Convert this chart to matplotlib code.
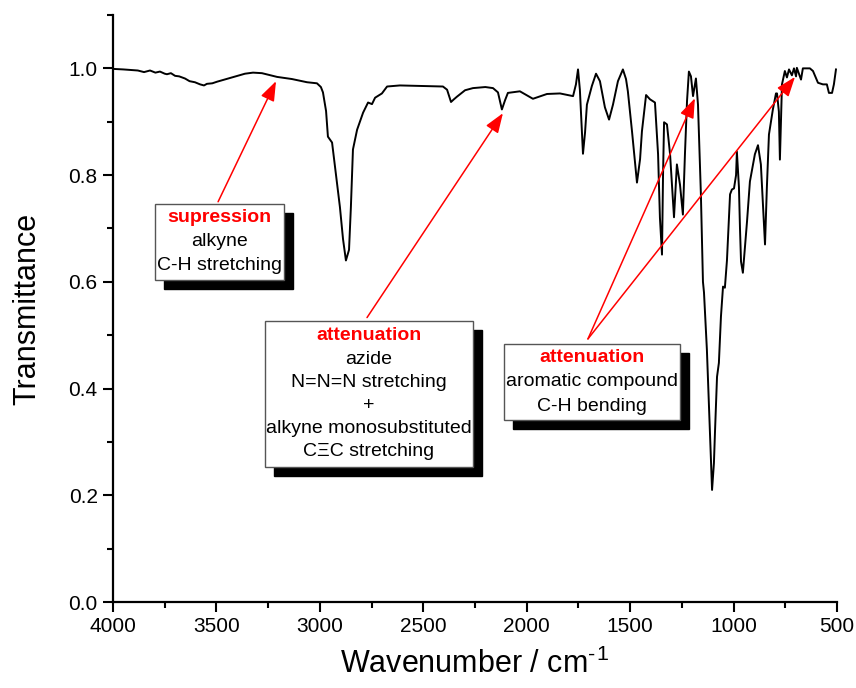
import matplotlib
matplotlib.use("Agg")
import matplotlib.pyplot as plt
from matplotlib.ticker import MultipleLocator, FormatStrFormatter
from matplotlib.patches import Rectangle

plt.rcParams['font.family'] = ['Liberation Sans', 'DejaVu Sans']
plt.rcParams['mathtext.default'] = 'regular'

wavenumber = [4000, 3950, 3918, 3880, 3850, 3821, 3795, 3773, 3750, 3739, 3720, 3700, 3680,
              3652, 3630, 3604, 3579, 3560, 3546, 3520, 3497, 3434, 3362, 3323, 3280, 3207,
              3135, 3062, 3014, 2995, 2985, 2970, 2961, 2941, 2922, 2903, 2888, 2874, 2859,
              2850, 2840, 2820, 2791, 2767, 2748, 2733, 2700, 2675, 2613, 2516, 2405, 2385,
              2366, 2352, 2337, 2298, 2260, 2200, 2163, 2139, 2120, 2105, 2091, 2033, 1970,
              1902, 1839, 1776, 1762, 1752, 1743, 1728, 1718, 1709, 1685, 1665, 1646, 1622,
              1602, 1583, 1559, 1535, 1520, 1511, 1491, 1467, 1452, 1443, 1423, 1404, 1380,
              1365, 1356, 1346, 1341, 1336, 1322, 1307, 1288, 1274, 1259, 1245, 1235, 1225,
              1216, 1206, 1196, 1182, 1172, 1158, 1148, 1143, 1129, 1114, 1104, 1095, 1090,
              1080, 1071, 1061, 1051, 1042, 1032, 1017, 1008, 998, 988, 984, 974, 969, 964,
              955, 935, 921, 906, 897, 882, 868, 858, 848, 839, 829, 810, 795, 790, 781, 776,
              766, 752, 742, 732, 718, 708, 698, 694, 684, 674, 665, 631, 616, 592, 568, 549,
              539, 524, 515, 505]
transmittance = [0.999, 0.998, 0.997, 0.996, 0.993, 0.996, 0.992, 0.994, 0.990, 0.989, 0.991,
                 0.986, 0.985, 0.981, 0.976, 0.974, 0.970, 0.968, 0.971, 0.972, 0.975, 0.982,
                 0.990, 0.992, 0.991, 0.984, 0.980, 0.974, 0.972, 0.965, 0.955, 0.920, 0.872,
                 0.861, 0.800, 0.740, 0.680, 0.640, 0.660, 0.740, 0.848, 0.885, 0.917, 0.936,
                 0.933, 0.945, 0.953, 0.966, 0.968, 0.967, 0.966, 0.960, 0.937, 0.942, 0.947,
                 0.959, 0.963, 0.965, 0.963, 0.955, 0.923, 0.940, 0.954, 0.957, 0.943, 0.952,
                 0.953, 0.948, 0.970, 0.998, 0.960, 0.840, 0.880, 0.932, 0.967, 0.990, 0.976,
                 0.927, 0.904, 0.932, 0.976, 0.998, 0.980, 0.957, 0.882, 0.786, 0.830, 0.882,
                 0.950, 0.942, 0.936, 0.839, 0.720, 0.651, 0.800, 0.899, 0.895, 0.839, 0.721,
                 0.820, 0.782, 0.726, 0.840, 0.939, 0.994, 0.985, 0.948, 0.981, 0.932, 0.764,
                 0.600, 0.580, 0.473, 0.317, 0.210, 0.260, 0.317, 0.422, 0.448, 0.535, 0.591,
                 0.589, 0.640, 0.764, 0.773, 0.775, 0.800, 0.844, 0.777, 0.700, 0.638, 0.617,
                 0.713, 0.788, 0.820, 0.839, 0.856, 0.820, 0.745, 0.670, 0.777, 0.876, 0.923,
                 0.953, 0.953, 0.919, 0.829, 0.970, 0.995, 0.983, 0.998, 0.987, 1.000, 0.985,
                 1.001, 0.990, 0.979, 1.000, 1.000, 0.995, 0.973, 0.970, 0.970, 0.954, 0.954,
                 0.970, 0.998]

# annotations: (tip wavenumber, tip T), (start wavenumber, start T)
arrow_tips = [(3212, 0.976), (2115, 0.916), (1187, 0.944), (703, 0.984)]
arrow_starts = [(3492, 0.750), (2772, 0.533), (1704, 0.493), (1704, 0.493)]

box_titles = ["supression", "attenuation", "attenuation"]
box_lines = [["alkyne", "C-H stretching"],
             ["azide", "N=N=N stretching", "+", "alkyne monosubstituted", "C\u039eC stretching"],
             ["aromatic compound", "C-H bending"]]

W, H = 856, 688
fig = plt.figure(figsize=(W / 100, H / 100), dpi=100)
ax = fig.add_axes([113 / W, 1 - 602 / H, (837 - 113) / W, (602 - 15) / H])

ax.plot(wavenumber, transmittance, color='black', lw=1.4, zorder=3)
ax.set_xlim(4000, 500)
ax.set_ylim(0, 1.1)

for s in ['top', 'right']:
    ax.spines[s].set_visible(False)
for s in ['left', 'bottom']:
    ax.spines[s].set_linewidth(1.6)

ax.xaxis.set_major_locator(MultipleLocator(500))
ax.xaxis.set_minor_locator(MultipleLocator(250))
ax.yaxis.set_major_locator(MultipleLocator(0.2))
ax.yaxis.set_minor_locator(MultipleLocator(0.1))
ax.yaxis.set_major_formatter(FormatStrFormatter('%.1f'))
ax.tick_params(which='major', direction='out', length=7, width=1.5, labelsize=15, pad=4)
ax.tick_params(which='minor', direction='out', length=4, width=1.5)

ax.set_xlabel('Wavenumber / cm$^{\u2010\u200a1}$', fontsize=22)
ax.set_ylabel('Transmittance', fontsize=22)
ax.xaxis.set_label_coords(0.5, -0.08)
ax.yaxis.set_label_coords(-0.098, 0.5)

# arrows
for tip, start in zip(arrow_tips, arrow_starts):
    ax.annotate('', xy=tip, xytext=start, xycoords='data', textcoords='data',
                arrowprops=dict(arrowstyle='-|>,head_length=0.6,head_width=0.22',
                                color='red', lw=1.1,
                                mutation_scale=20, shrinkA=0, shrinkB=0),
                zorder=4, annotation_clip=False)

# boxes (pixel geometry) : left, top, right, bottom, first line y, line step
box_geom = [(155, 204, 284, 280, 218, 23.5),
            (265, 321, 473, 467, 336, 23.2),
            (504, 344, 680, 420, 358, 24.0)]
shadow = 9

def fx(px):
    return px / W

def fy(py):
    return 1 - py / H

for (l, t, r, b, y0, step), title, lines in zip(box_geom, box_titles, box_lines):
    fig.patches.append(Rectangle((fx(l + shadow), fy(b + shadow)), (r - l) / W, (b - t) / H,
                                 transform=fig.transFigure, facecolor='black',
                                 edgecolor='black', zorder=5))
    fig.patches.append(Rectangle((fx(l), fy(b)), (r - l) / W, (b - t) / H,
                                 transform=fig.transFigure, facecolor='white',
                                 edgecolor='#555555', lw=1.0, zorder=6))
    cx = (l + r) / 2
    fig.text(fx(cx), fy(y0), title, color='red', fontweight='bold', fontsize=14,
             ha='center', va='center', zorder=7)
    for i, line in enumerate(lines):
        fig.text(fx(cx), fy(y0 + step * (i + 1)), line, color='black', fontsize=14,
                 ha='center', va='center', zorder=7)

fig.savefig('out.png', dpi=100)
